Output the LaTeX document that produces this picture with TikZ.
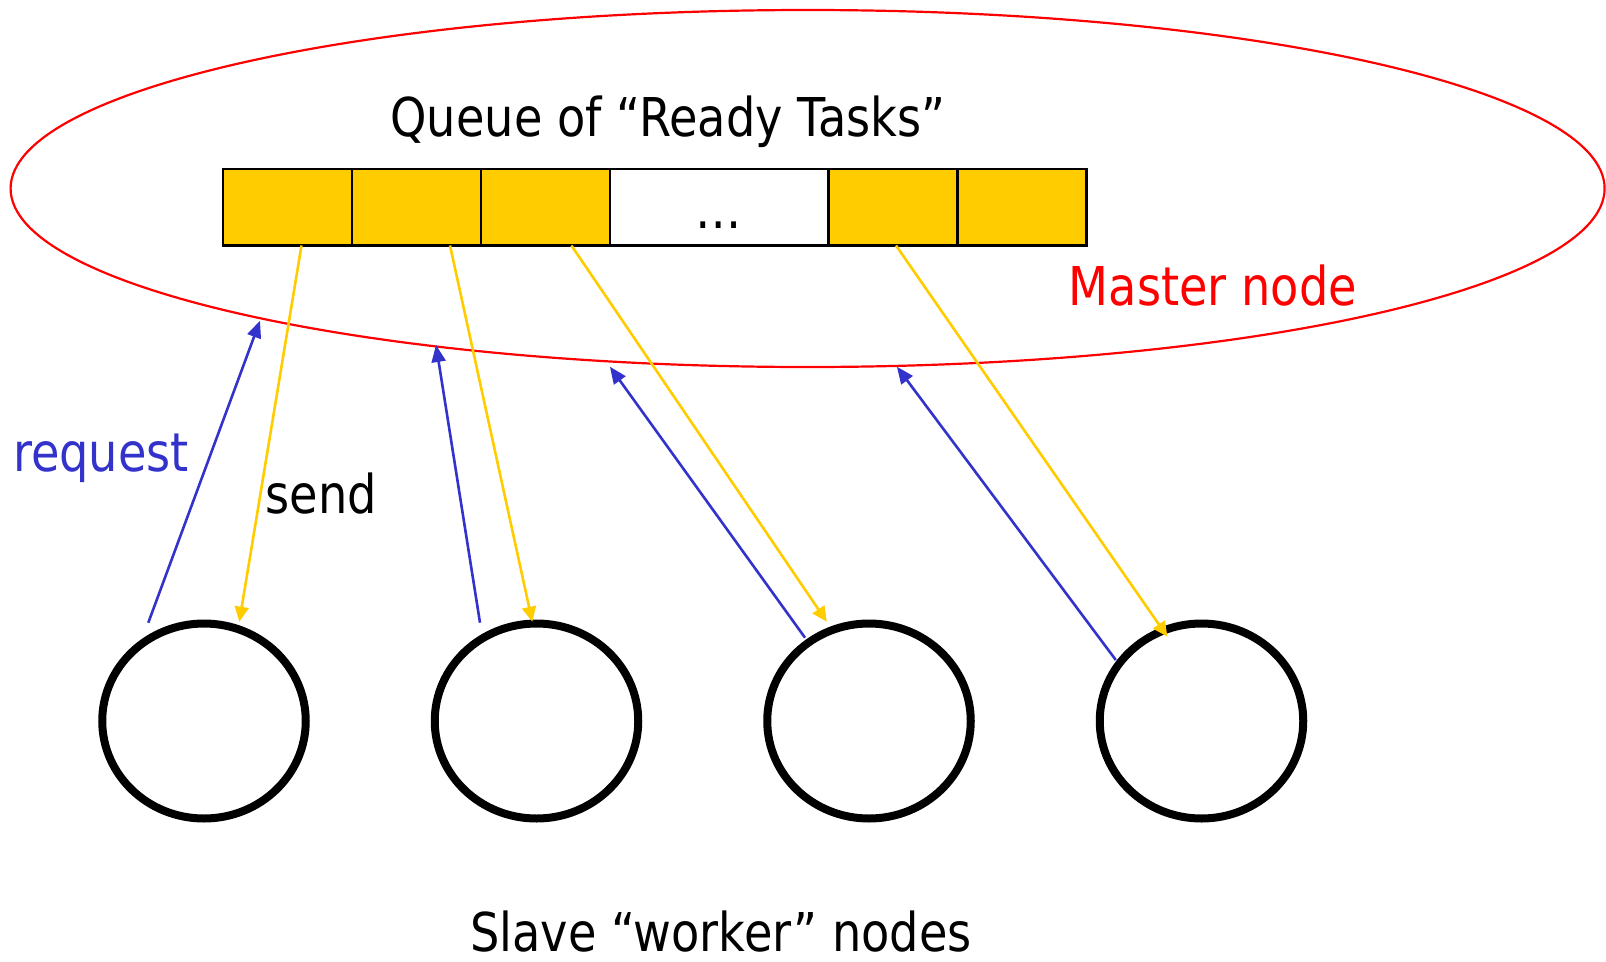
\documentclass[tikz,border=0pt]{standalone}
\usepackage{fontspec}
\setmainfont[FakeStretch=0.865]{DejaVu Sans}
\usetikzlibrary{arrows.meta,shapes.geometric}
\definecolor{reqblue}{RGB}{51,51,204}
\definecolor{taskgold}{RGB}{255,204,0}
\definecolor{masterred}{RGB}{255,0,0}
\begin{document}
\begin{tikzpicture}[x=1pt,y=-1pt,
  lbl/.style={inner sep=0pt, anchor=base, font=\fontsize{53.5pt}{64pt}\selectfont},
  cell/.style={draw=black, line width=2.7pt, minimum height=76.5pt, inner sep=0pt, fill=taskgold},
  worker/.style={ellipse, draw=black, line width=8pt, minimum width=203.5pt, minimum height=195pt, inner sep=0pt},
  reqarrow/.style={draw=reqblue, line width=2.6pt, -{Triangle[length=17pt,width=14pt]}},
  sendarrow/.style={draw=taskgold, line width=2.6pt, -{Triangle[length=15pt,width=14pt]}},
]
\useasboundingbox (0,0) rectangle (1606,961);

% master node boundary
\node[ellipse, draw=masterred, line width=2.2pt, minimum width=1594pt, minimum height=357pt, inner sep=0pt] (master) at (807.6,188.5) {};

% queue of ready tasks
\node[cell, minimum width=129pt] (c1) at (287.5,207.25) {};
\node[cell, minimum width=129pt] (c2) at (416.5,207.25) {};
\node[cell, minimum width=129pt] (c3) at (545.5,207.25) {};
\node[cell, minimum width=218.5pt, fill=white] (c4) at (719.25,207.25) {};
\node[cell, minimum width=129pt] (c5) at (893,207.25) {};
\node[cell, minimum width=129pt] (c6) at (1022.2,207.25) {};
\node[lbl] (dots) at (719,228) {…};

% labels
\node[lbl] (title) at (668,136.6) {Queue of “Ready Tasks”};
\node[lbl, text=masterred] (mlabel) at (1213,305) {Master node};
\node[lbl, text=reqblue] (reqlabel) at (101,471.7) {request};
\node[lbl] (sendlabel) at (321.5,513) {send};
\node[lbl] (slavelabel) at (721,951.6) {Slave “worker” nodes};

% worker nodes
\node[worker] (w1) at (204,721) {};
\node[worker] (w2) at (536.5,721) {};
\node[worker] (w3) at (869,721) {};
\node[worker] (w4) at (1201.5,721) {};

% connector end points
\coordinate (r1s) at (148.3,622.7); \coordinate (r1e) at (260,320.7);
\coordinate (r2s) at (480,622.7);   \coordinate (r2e) at (436,345);
\coordinate (r3s) at (805,637.7);   \coordinate (r3e) at (609.9,366.7);
\coordinate (r4s) at (1115.8,660);  \coordinate (r4e) at (896.9,366.7);
\coordinate (s1s) at (301.5,245.5); \coordinate (s1e) at (239.3,621.7);
\coordinate (s2s) at (450,245.5);   \coordinate (s2e) at (532.3,621.7);
\coordinate (s3s) at (571.4,245.5); \coordinate (s3e) at (826.8,621.7);
\coordinate (s4s) at (896,245.5);   \coordinate (s4e) at (1167.4,636.7);

% requests from workers
\draw[reqarrow] (r1s) -- (r1e);
\draw[reqarrow] (r2s) -- (r2e);
\draw[reqarrow] (r3s) -- (r3e);
\draw[reqarrow] (r4s) -- (r4e);

% tasks sent to workers
\draw[sendarrow] (s1s) -- (s1e);
\draw[sendarrow] (s2s) -- (s2e);
\draw[sendarrow] (s3s) -- (s3e);
\draw[sendarrow] (s4s) -- (s4e);
\end{tikzpicture}
\end{document}
